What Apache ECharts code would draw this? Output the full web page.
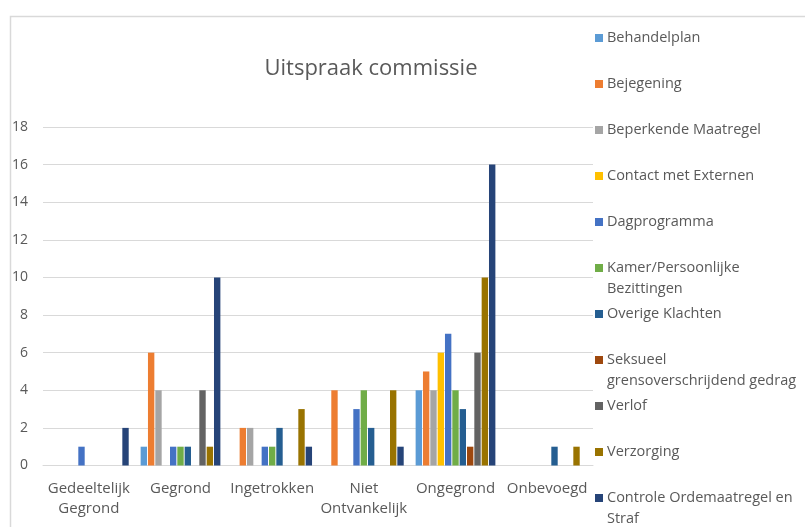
<!DOCTYPE html>
<html>
<head>
<meta charset="utf-8">
<script src="https://cdn.jsdelivr.net/npm/echarts@6/dist/echarts.min.js"></script>
<style>
html,body{margin:0;padding:0;background:#fff;}
#chart{width:805px;height:527px;}
</style>
</head>
<body>
<div id="chart"></div>
<script>
var categories = ['Gedeeltelijk\nGegrond', 'Gegrond', 'Ingetrokken', 'Niet\nOntvankelijk', 'Ongegrond', 'Onbevoegd'];
var seriesNames = ['Behandelplan', 'Bejegening', 'Beperkende Maatregel', 'Contact met Externen', 'Dagprogramma',
  'Kamer/Persoonlijke Bezittingen', 'Overige Klachten', 'Seksueel grensoverschrijdend gedrag', 'Verlof', 'Verzorging',
  'Controle Ordemaatregel en Straf'];
var legendLabels = ['Behandelplan', 'Bejegening', 'Beperkende Maatregel', 'Contact met Externen', 'Dagprogramma',
  'Kamer/Persoonlijke\nBezittingen', 'Overige Klachten', 'Seksueel\ngrensoverschrijdend gedrag', 'Verlof', 'Verzorging',
  'Controle Ordemaatregel en\nStraf'];
var colors = ['#5B9BD5', '#ED7D31', '#A5A5A5', '#FFC000', '#4472C4', '#70AD47', '#255E91', '#9E480E', '#636363', '#997300', '#264478'];

var behandelplan = [0, 1, 0, 0, 4, 0];
var bejegening = [0, 6, 2, 4, 5, 0];
var beperkendeMaatregel = [0, 4, 2, 0, 4, 0];
var contactMetExternen = [0, 0, 0, 0, 6, 0];
var dagprogramma = [1, 1, 1, 3, 7, 0];
var kamerBezittingen = [0, 1, 1, 4, 4, 0];
var overigeKlachten = [0, 1, 2, 2, 3, 1];
var seksueelGedrag = [0, 0, 0, 0, 1, 0];
var verlof = [0, 4, 0, 0, 6, 0];
var verzorging = [0, 1, 3, 4, 10, 1];
var controleOrdemaatregel = [2, 10, 1, 1, 16, 0];
var seriesValues = [behandelplan, bejegening, beperkendeMaatregel, contactMetExternen, dagprogramma,
  kamerBezittingen, overigeKlachten, seksueelGedrag, verlof, verzorging, controleOrdemaatregel];

var yTicks = [0, 2, 4, 6, 8, 10, 12, 14, 16, 18];

var FONT = '"Open Sans"';
var TXT = '#595959';
var LH = 21;

var legendCenters = [38, 84, 130, 176, 222, 268, 314, 360, 406, 452, 498];
var legends = seriesNames.map(function (n, i) {
  var twoLine = legendLabels[i].indexOf('\n') >= 0;
  return {
    show: true,
    orient: 'vertical',
    left: 595,
    top: legendCenters[i] - (twoLine ? LH * 1.5 : LH / 2),
    padding: 0,
    itemWidth: 8,
    itemHeight: 8,
    itemGap: 0,
    icon: 'rect',
    data: [n],
    formatter: function () { return (twoLine ? ' \n' : '') + legendLabels[i]; },
    textStyle: {
      fontFamily: FONT, fontSize: 14.5, color: TXT, lineHeight: LH,
      padding: [0, 0, 0, -1]
    }
  };
});

var chart = echarts.init(document.getElementById('chart'));
chart.setOption({
  animation: false,
  backgroundColor: '#ffffff',
  color: colors,
  title: {
    text: 'Uitspraak commissie',
    left: 371, top: 58, textAlign: 'center', padding: 0,
    textStyle: { fontFamily: FONT, fontSize: 22, fontWeight: 'normal', color: TXT }
  },
  graphic: [{
    type: 'rect', left: 8, top: 14, z: -1,
    shape: { width: 900, height: 700 },
    style: { fill: 'none', stroke: '#d9d9d9', lineWidth: 1.5 }
  }],
  legend: legends,
  grid: { left: 43, right: 212, top: 127, bottom: 61.5, containLabel: false },
  xAxis: {
    type: 'category',
    data: categories,
    axisLine: { lineStyle: { color: '#d9d9d9', width: 1 } },
    axisTick: { show: false },
    axisLabel: { fontFamily: FONT, fontSize: 15, color: TXT, margin: 13, lineHeight: 20, interval: 0 }
  },
  yAxis: {
    type: 'value',
    min: 0, max: 18, interval: 2,
    axisLine: { show: false },
    axisTick: { show: false },
    splitLine: { lineStyle: { color: '#d9d9d9', width: 1 } },
    axisLabel: { fontFamily: FONT, fontSize: 14, color: TXT, margin: 15,
      formatter: function (v) { return yTicks.indexOf(v) >= 0 ? String(v) : ''; } }
  },
  series: seriesNames.map(function (n, i) {
    return {
      name: n, type: 'bar', data: seriesValues[i],
      barGap: '15%', barCategoryGap: '13%'
    };
  })
});
</script>
</body>
</html>
